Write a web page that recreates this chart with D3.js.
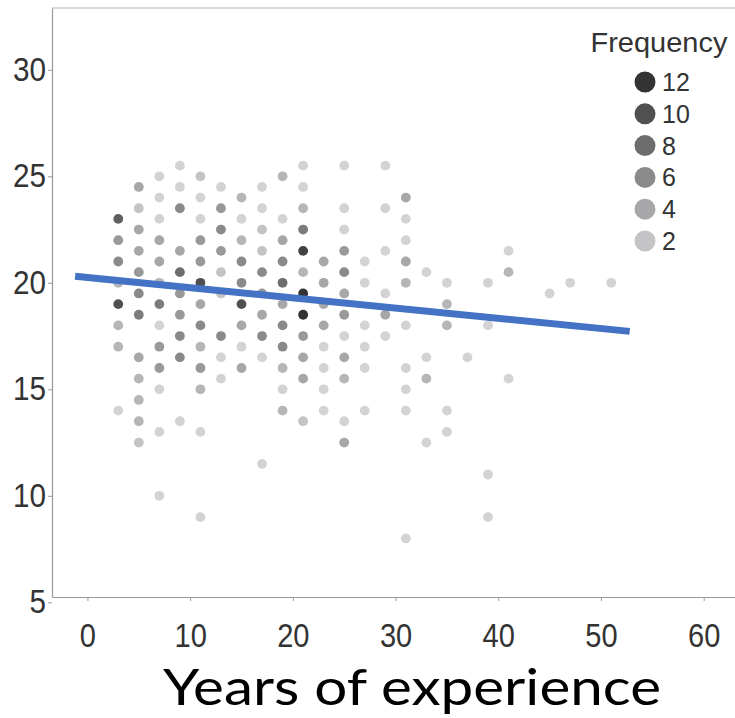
<!DOCTYPE html>
<html><head><meta charset="utf-8">
<script src="https://cdn.jsdelivr.net/npm/d3@7"></script>
<style>
html,body{margin:0;padding:0;background:#fff;}
svg{display:block;}
.tick text{transform-box:fill-box;}
</style>
</head><body>
<svg id="chart" width="735" height="718"></svg>
<script>
// ---- data ----
const yearColumns = [3,5,7,9,11,13,15,17,19,21,23,25,27,29,31,33,35,37,39,41,45,47,51];
const scoresByYear = [
  [23,22,21,20,19,18,17,14],
  [24.5,23.5,22.5,21.5,20.5,19.5,18.5,16.5,15.5,14.5,13.5,12.5],
  [25,24,23,22,21,20,19,18,17,16,15,13,10],
  [25.5,24.5,23.5,21.5,20.5,19.5,18.5,17.5,16.5,13.5],
  [25,24,23,22,21,20,19,18,17,16,15,13,9],
  [24.5,23.5,22.5,21.5,20.5,19.5,17.5,16.5,15.5],
  [24,23,22,21,20,19,18,17,16],
  [24.5,23.5,22.5,21.5,20.5,19.5,18.5,17.5,16.5,11.5],
  [25,23,22,21,20,19,18,17,16,15,14],
  [25.5,24.5,23.5,22.5,21.5,20.5,19.5,18.5,17.5,16.5,15.5,13.5],
  [21,20,19,18,17,16,15,14],
  [25.5,23.5,22.5,21.5,20.5,19.5,18.5,17.5,16.5,15.5,13.5,12.5],
  [21,20,18,17,16,14],
  [25.5,23.5,21.5,19.5,18.5,17.5],
  [24,23,22,21,20,18,16,15,14,8],
  [20.5,16.5,15.5,12.5],
  [20,19,18,14,13],
  [16.5],
  [20,18,11,9],
  [21.5,20.5,15.5],
  [19.5],
  [20],
  [20]
];
const countsByYear = [
  [9,5,6,3,10,3,3,1],
  [4,2,4,4,5,6,7,4,3,3,3,2],
  [1,1,1,4,4,3,7,1,5,5,1,1,1],
  [1,1,6,4,8,5,5,6,6,1],
  [2,1,1,5,5,10,4,6,3,5,3,1,1],
  [1,5,6,5,2,2,6,1,1],
  [3,1,3,6,6,10,4,1,4],
  [1,1,2,2,6,5,4,6,1,1],
  [3,1,4,6,8,4,6,6,3,1,3],
  [1,1,3,7,11,3,12,12,5,4,4,2],
  [4,4,4,4,1,1,1,1],
  [1,1,1,5,6,4,5,1,4,3,1,4],
  [1,1,1,1,1,1],
  [1,1,1,1,4,1],
  [4,1,1,4,3,1,1,1,1,1],
  [1,1,3,1],
  [1,3,3,1,1],
  [1],
  [1,1,1,1],
  [1,3,1],
  [1],
  [1],
  [1]
];
const xTickValues = [0,10,20,30,40,50,60];
const yTickValues = [5,10,15,20,25,30];
const legendCounts = [12,10,8,6,4,2];
const trendYears = [-1.2, 52.8];
const trendScores = [20.31, 17.72];
const xTitle = "Years of experience";
const legendTitle = "Frequency";

// ---- drawing ----
const svg = d3.select("#chart");
const x = d3.scaleLinear().domain([-3.45, 63.05]).range([52, 735]);
const y = d3.scaleLinear().domain([5.25, 32.9]).range([597, 8]);
const shade = d3.scaleLinear().domain([1, 12]).range(["#d3d3d5", "#333333"]);

const points = [];
yearColumns.forEach((yr, i) => {
  scoresByYear[i].forEach((s, j) => points.push({yr, s, n: countsByYear[i][j]}));
});

// top frame line
svg.append("line")
  .attr("x1", x.range()[0]).attr("x2", x.range()[1])
  .attr("y1", y.range()[1]).attr("y2", y.range()[1])
  .attr("stroke", "#b4b4b4").attr("stroke-width", 1.2);

const tickFont = "'Liberation Sans', Arial, sans-serif";

const yAxis = svg.append("g")
  .attr("transform", `translate(${x.range()[0]},0)`)
  .call(d3.axisLeft(y).tickValues(yTickValues).tickSize(4).tickSizeOuter(0));
yAxis.select(".domain").attr("stroke", "#9a9a9a").attr("stroke-width", 1.2);
yAxis.selectAll(".tick line").attr("stroke", "#9a9a9a");
yAxis.selectAll(".tick text")
  .attr("font-family", tickFont).attr("font-size", 33).attr("fill", "#333")
  .attr("x", -6)
  .style("transform-origin", "100% 50%").style("transform", "scaleX(0.9)");

const xAxis = svg.append("g")
  .attr("transform", `translate(0,${y.range()[0]})`)
  .call(d3.axisBottom(x).tickValues(xTickValues).tickSize(4).tickSizeOuter(0));
xAxis.select(".domain").attr("stroke", "#9a9a9a").attr("stroke-width", 1.2);
xAxis.selectAll(".tick line").attr("stroke", "#9a9a9a");
xAxis.selectAll(".tick text")
  .attr("font-family", tickFont).attr("font-size", 33).attr("fill", "#333")
  .attr("y", 50).attr("dy", 0)
  .style("transform-origin", "50% 50%").style("transform", "scaleX(0.88)");

// dots
svg.append("g").selectAll("circle").data(points).join("circle")
  .attr("cx", d => x(d.yr)).attr("cy", d => y(d.s))
  .attr("r", 4.9)
  .attr("fill", d => shade(d.n));

// trend line
svg.append("line")
  .attr("x1", x(trendYears[0])).attr("y1", y(trendScores[0]))
  .attr("x2", x(trendYears[1])).attr("y2", y(trendScores[1]))
  .attr("stroke", "#4472c4").attr("stroke-width", 7);

// legend
const lg = svg.append("g");
lg.append("text").text(legendTitle)
  .attr("x", 659).attr("y", 52).attr("text-anchor", "middle")
  .attr("font-family", tickFont).attr("font-size", 28).attr("fill", "#333")
  .attr("textLength", 137).attr("lengthAdjust", "spacingAndGlyphs");
const legendY = d3.scalePoint().domain(legendCounts).range([82, 241]);
lg.selectAll("circle").data(legendCounts).join("circle")
  .attr("cx", 645).attr("cy", d => legendY(d)).attr("r", 10.5)
  .attr("fill", d => shade(d));
lg.selectAll("text.lab").data(legendCounts).join("text").attr("class", "lab")
  .text(d => d)
  .attr("x", 662).attr("y", d => legendY(d)).attr("dy", "0.36em")
  .attr("font-family", tickFont).attr("font-size", 25).attr("fill", "#333");

// x title
svg.append("text").text(xTitle)
  .attr("x", 412).attr("y", 705).attr("text-anchor", "middle")
  .attr("font-family", "Lato, 'Open Sans', sans-serif").attr("font-size", 50)
  .attr("fill", "#000")
  .attr("textLength", 498).attr("lengthAdjust", "spacingAndGlyphs");
</script>
</body></html>
